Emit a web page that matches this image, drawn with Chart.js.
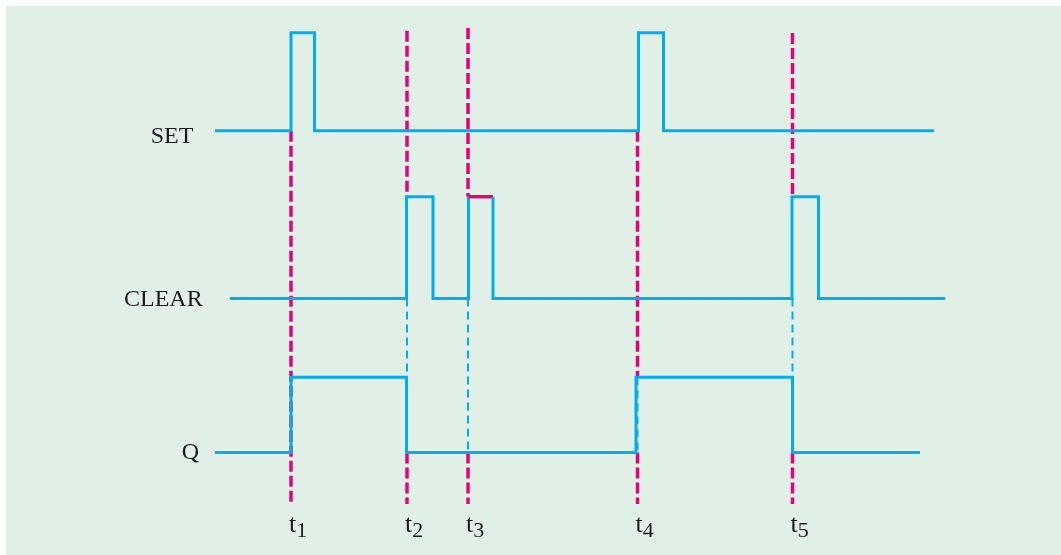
<!DOCTYPE html>
<html>
<head>
<meta charset="utf-8">
<script src="https://cdn.jsdelivr.net/npm/chart.js@4"></script>
<style>
  html, body { margin: 0; padding: 0; background: #ffffff; }
  #wrap { width: 1061px; height: 555px; }
</style>
</head>
<body>
<div id="wrap"><canvas id="timing" width="1061" height="555"></canvas></div>
<script>
// Timing diagram: SET / CLEAR / Q with events t1..t5
// x is time, 1 unit = 10 px of the figure; y is vertical level in the same units

const signalNames = ['SET', 'CLEAR', 'Q'];

// transition times and the level after each transition
const setTimes = [21.5, 29.1, 31.45, 63.85, 66.35, 93.4];
const setLevels = [0, 1, 0, 1, 0, 0];
const clearTimes = [23.0, 40.65, 43.3, 46.85, 49.3, 79.2, 81.85, 94.5];
const clearLevels = [0, 1, 0, 1, 0, 1, 0, 0];
const qTimes = [21.5, 29.1, 40.65, 63.6, 79.25, 92.0];
const qLevels = [0, 1, 0, 1, 0, 0];

// event markers
const eventNames = ['1', '2', '3', '4', '5'];
const eventTimes = [29.1, 40.7, 46.8, 63.75, 79.25];
// magenta dashed spans (from, to) per event
const magentaSpans = [
  [[42.42, 5.1]],
  [[52.43, 35.83], [10.25, 5.1]],
  [[52.7, 35.83], [10.25, 5.1]],
  [[42.42, 17.77], [10.25, 5.1]],
  [[52.2, 35.83], [10.25, 5.1]]
];
// thin cyan dashed spans per event
const cyanSpans = [
  [],
  [[25.65, 17.77]],
  [[25.65, 10.25]],
  [[17.77, 10.25]],
  [[25.65, 17.77]]
];

// layout: low / high level of each lane, label placement
const lanes = {
  SET:   { low: 42.42, high: 52.23, labelX: 15.07, labelY: 41.17 },
  CLEAR: { low: 25.65, high: 35.83, labelX: 12.4,  labelY: 24.95 },
  Q:     { low: 10.25, high: 17.77, labelX: 18.17, labelY: 9.65 }
};
const tickLabelY = 2.35;

const CYAN = '#00aeef';
const MAGENTA = '#e6007e';
const INK = '#1c1a1b';
const PANEL = '#e1f0e6';

function wavePoints(name, times, levels) {
  const lane = lanes[name];
  const yOf = l => lane.low + l * (lane.high - lane.low);
  const pts = [{ x: times[0], y: yOf(levels[0]) }];
  for (let i = 1; i < times.length; i++) {
    const prev = levels[i - 1];
    pts.push({ x: times[i], y: yOf(prev) });
    if (levels[i] !== prev) pts.push({ x: times[i], y: yOf(levels[i]) });
  }
  return pts;
}

const datasets = [];

datasets.push({
  data: wavePoints('SET', setTimes, setLevels),
  borderColor: CYAN, borderWidth: 3, order: 0
});
datasets.push({
  data: wavePoints('CLEAR', clearTimes, clearLevels),
  borderColor: CYAN, borderWidth: 3, order: 0,
  segment: {
    // the top of the pulse starting at t3 is drawn in magenta
    borderColor: ctx => {
      const a = ctx.p0.parsed, b = ctx.p1.parsed;
      if (a.y === b.y && a.y === lanes.CLEAR.high && Math.abs(a.x - eventTimes[2]) < 0.5) return MAGENTA;
      return undefined;
    },
    borderWidth: ctx => {
      const a = ctx.p0.parsed, b = ctx.p1.parsed;
      if (a.y === b.y && a.y === lanes.CLEAR.high && Math.abs(a.x - eventTimes[2]) < 0.5) return 3.5;
      return undefined;
    }
  }
});
datasets.push({
  data: wavePoints('Q', qTimes, qLevels),
  borderColor: CYAN, borderWidth: 3, order: 0
});

eventTimes.forEach((t, i) => {
  magentaSpans[i].forEach(s => {
    datasets.push({
      data: [{ x: t, y: s[0] }, { x: t, y: s[1] }],
      borderColor: MAGENTA, borderWidth: 3.5, borderDash: [11, 4], order: 2
    });
  });
  cyanSpans[i].forEach(s => {
    datasets.push({
      data: [{ x: t, y: s[0] }, { x: t, y: s[1] }],
      borderColor: CYAN, borderWidth: 2, borderDash: [8, 5], order: 1
    });
  });
});

const panelPlugin = {
  id: 'panel',
  beforeDraw(chart) {
    const c = chart.ctx;
    c.save();
    c.fillStyle = '#ffffff';
    c.fillRect(0, 0, chart.width, chart.height);
    c.fillStyle = PANEL;
    c.fillRect(6, 6, chart.width - 6, chart.height - 6);
    c.restore();
  }
};

const labelPlugin = {
  id: 'labels',
  afterDatasetsDraw(chart) {
    const c = chart.ctx;
    const xs = chart.scales.x, ys = chart.scales.y;
    c.save();
    c.fillStyle = INK;
    c.textAlign = 'left';
    c.textBaseline = 'alphabetic';
    c.font = '24px "Liberation Serif", "Times New Roman", serif';
    signalNames.forEach(n => {
      c.fillText(n, xs.getPixelForValue(lanes[n].labelX), ys.getPixelForValue(lanes[n].labelY));
    });
    eventTimes.forEach((t, i) => {
      const x = xs.getPixelForValue(t) - 2;
      const y = ys.getPixelForValue(tickLabelY);
      c.font = '26px "Liberation Serif", "Times New Roman", serif';
      c.fillText('t', x, y);
      const w = c.measureText('t').width;
      c.font = '22px "Liberation Serif", "Times New Roman", serif';
      c.fillText(eventNames[i], x + w, y + 5.5);
    });
    c.restore();
  }
};

new Chart(document.getElementById('timing'), {
  type: 'line',
  data: { datasets: datasets },
  options: {
    responsive: false,
    animation: false,
    events: [],
    elements: {
      point: { radius: 0 },
      line: { tension: 0, borderCapStyle: 'butt', borderJoinStyle: 'miter', fill: false }
    },
    layout: { padding: 0 },
    scales: {
      x: { type: 'linear', display: false, min: 0, max: 106.1 },
      y: { type: 'linear', display: false, min: 0, max: 55.5 }
    },
    plugins: {
      legend: { display: false },
      tooltip: { enabled: false }
    }
  },
  plugins: [panelPlugin, labelPlugin]
});
</script>
</body>
</html>
